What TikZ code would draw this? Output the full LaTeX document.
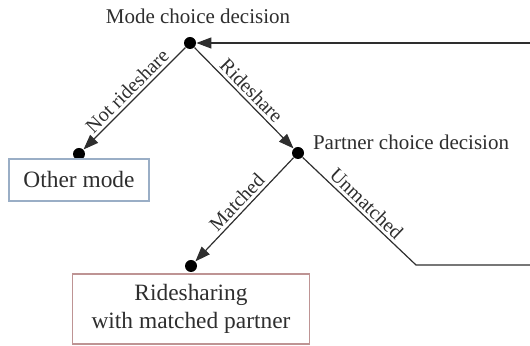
\documentclass[tikz,border=0pt]{standalone}
\usepackage{fontspec}
\setmainfont{Liberation Serif}
\usetikzlibrary{arrows.meta,positioning}
\definecolor{otheredge}{HTML}{9AAEC6}
\definecolor{rideedge}{HTML}{BE9494}
\definecolor{ink}{HTML}{2E2E2E}

\begin{document}
\begin{tikzpicture}[x=0.5pt,y=-0.5pt,
  dot/.style={circle,fill=black,inner sep=0pt,minimum size=6pt},
  branch/.style={draw=ink,line width=0.6pt},
  choice/.style={branch,-{Triangle[length=7.5pt,width=5.5pt]}},
  outcome/.style={line width=0.6pt,align=center,inner sep=0pt,text=ink,font=\fontsize{11.7}{14}\selectfont},
  tag/.style={midway,sloped,above,inner sep=1.5pt,text=ink,font=\fontsize{10}{12}\selectfont},
  decision/.style={text=ink,font=\fontsize{10.5}{12}\selectfont}]
\useasboundingbox (0,0) rectangle (530,346);
% decision points and ends
\node[dot] (mode) at (190,43) {};
\node[dot] (partner) at (298,153) {};
\node[dot] (other) at (79,154) {};
\node[dot] (matched) at (191,266) {};
\coordinate (back) at (416,265);
\coordinate (edgelow) at (530,265);
\coordinate (edgetop) at (530,43);
% decision labels
\node[decision] (modelabel) at (198,16) {Mode choice decision};
\node[decision,anchor=west] (partnerlabel) at (306,142) {Partner choice decision};
% outcomes
\node[outcome,draw=otheredge,minimum width=70pt,minimum height=21pt] (otherbox) at (79,180) {Other mode};
\node[outcome,draw=rideedge,minimum width=118.5pt,minimum height=35pt] (ridebox) at (191,309) {Ridesharing\\with matched partner};
% branches
\draw[choice] (mode) -- node[tag] {Not rideshare} (other);
\draw[choice] (mode) -- node[tag] {Rideshare} (partner);
\draw[choice] (partner) -- node[tag] {Matched} (matched);
\draw[branch] (partner) -- node[tag] {Unmatched} (back) -- (edgelow);
\draw[choice] (edgetop) -- (mode);
\end{tikzpicture}
\end{document}
